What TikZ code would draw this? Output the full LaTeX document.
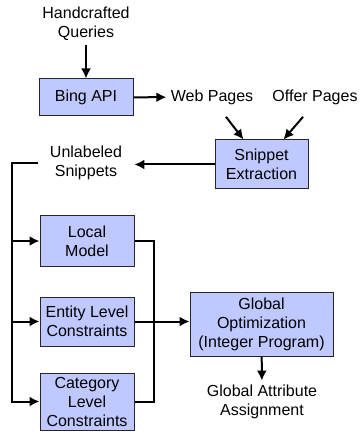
\documentclass[tikz,border=0pt]{standalone}
\usepackage{fontspec}
\setmainfont{Liberation Sans}
\usetikzlibrary{arrows.meta}
\begin{document}
\begin{tikzpicture}[x=0.5pt, y=-0.5pt,
  box/.style={draw=black!85, line width=0.5pt, fill=boxblue, align=center, inner sep=0pt, font=\fs, minimum width=47pt},
  txt/.style={align=center, font=\fs, inner sep=2pt},
  link/.style={line width=1pt, ->, >={Latex[length=5pt,width=5pt]}},
  bus/.style={line width=1pt}]

\def\fs{\fontsize{8}{9.5}\selectfont}
\definecolor{boxblue}{RGB}{191,201,255}
\useasboundingbox (0,0) rectangle (359,432);

% inputs and retrieval
\node[txt] (queries) at (86,24) {Handcrafted\\Queries};
\node[box, minimum height=18.5pt] (bing) at (86,97.5) {Bing API};
\node[txt] (web) at (212,97) {Web Pages};
\node[txt] (offer) at (315,97) {Offer Pages};
\node[box, minimum width=46.5pt, minimum height=24.5pt] (snippet) at (261.5,164.5) {Snippet\\Extraction};
\node[txt, inner xsep=6pt] (unlabeled) at (86,163) {Unlabeled\\Snippets};

% models
\node[box, minimum height=25pt] (local) at (87,241) {Local\\Model};
\node[box, minimum height=24.5pt] (entity) at (87,321.5) {Entity Level\\Constraints};
\node[box, minimum height=28.5pt] (category) at (87,401.5) {Category\\Level\\Constraints};
\node[box, minimum width=71.5pt, minimum height=32pt] (global) at (261.5,324) {Global\\Optimization\\(Integer Program)};
\node[txt] (assign) at (262,402) {Global Attribute\\Assignment};

\coordinate (busL) at (12,163);
\coordinate (busR) at (154,241);

\draw[link] (queries) -- (bing);
\draw[link] (bing) -- (web);
\draw[link] ([xshift=7pt,yshift=-4pt]web.south) -- ([xshift=-9pt]snippet.north);
\draw[link] ([xshift=-6pt,yshift=-4pt]offer.south) -- ([xshift=11pt]snippet.north);
\draw[link] (snippet.west) -- (snippet.west -| unlabeled.east);

% fan out to the models
\draw[link] (unlabeled.west) -- (busL) |- (category.west);
\draw[link] (busL |- local.west) -- (local.west);
\draw[link] (busL |- entity.west) -- (entity.west);

% collect into the optimizer
\draw[bus] (local.east) -- (local.east -| busR) -- (busR |- category.east) -- (category.east);
\draw[link] (entity.east) -- (entity.east -| global.west);
\draw[link] (global) -- (assign);

\end{tikzpicture}
\end{document}
